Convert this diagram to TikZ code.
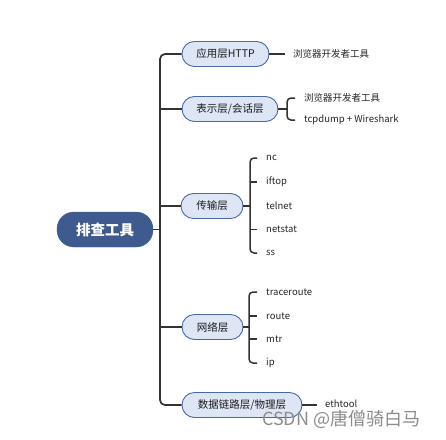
\documentclass[tikz,border=0pt]{standalone}
\usepackage{fontspec}
\setmainfont{Noto Sans CJK SC}
\begin{document}
\begin{tikzpicture}[x=1pt,y=-1pt,
  line/.style={draw=black!80,line width=1.7pt},
  br/.style={draw=black!80,line width=1.5pt,rounded corners=4pt},
  rootbox/.style={fill=rootblue,draw=rootblue,rounded corners=17pt,minimum height=35pt,minimum width=96pt,text=white,font=\fontsize{14.5}{16}\selectfont\bfseries,inner sep=0pt},
  layer/.style={fill=layerfill,draw=layerdraw,line width=0.9pt,rounded corners=12.5pt,minimum height=25pt,inner sep=0pt,font=\fontsize{10.5}{12}\selectfont,text=black!90},
  leaf/.style={anchor=west,inner sep=2pt,font=\fontsize{9.5}{11}\selectfont,text=black!85}]
\definecolor{rootblue}{HTML}{3F5A8F}
\definecolor{layerfill}{HTML}{DEE6F6}
\definecolor{layerdraw}{HTML}{4A69A8}
\path[fill=white] (0,0) rectangle (446,439);
\useasboundingbox (0,0) rectangle (446,439);

% root and layers
\node[rootbox] (root) at (105,229.5) {排查工具};
\node[layer,minimum width=87pt] (app) at (225.5,54) {应用层HTTP};
\node[layer,minimum width=96pt] (pres) at (230,109) {表示层/会话层};
\node[layer,minimum width=62pt] (trans) at (212,206) {传输层};
\node[layer,minimum width=61pt] (net) at (212.5,327) {网络层};
\node[layer,minimum width=120pt] (dl) at (242,405) {数据链路层/物理层};

% trunk
\coordinate (tk) at (160,229.5);
\draw[line] (root.east) -- (tk);
\draw[line,rounded corners=5pt] (app.west) -| (tk) |- (dl.west);
\draw[line] (pres.west) -- (pres.west -| tk);
\draw[line] (trans.west) -- (trans.west -| tk);
\draw[line] (net.west) -- (net.west -| tk);

% leaves
\node[leaf] (appc) at (291,54) {浏览器开发者工具};
\node[leaf] (presa) at (302,98) {浏览器开发者工具};
\node[leaf] (presb) at (302,120) {tcpdump + Wireshark};
\node[leaf] (nc) at (264,158) {nc};
\node[leaf] (iftop) at (264,182) {iftop};
\node[leaf] (telnet) at (264,206) {telnet};
\node[leaf] (netstat) at (264,229.5) {netstat};
\node[leaf] (ss) at (264,253) {ss};
\node[leaf] (tracer) at (264,292) {traceroute};
\node[leaf] (route) at (264,316) {route};
\node[leaf] (mtr) at (264,339) {mtr};
\node[leaf] (ip) at (264,363) {ip};
\node[leaf] (eth) at (323,404) {ethtool};

% single-child connectors
\draw[line] (app.east) -- ([xshift=-6pt]appc.west);
\draw[line] (dl.east) -- ([xshift=-6pt]eth.west |- dl.east);

% presentation bracket
\coordinate (pb) at (287,109);
\draw[br] ([xshift=-7pt]presa.west) -| (pb) |- ([xshift=-7pt]presb.west);
\draw[line] (pres.east) -- (pb);

% transport bracket
\coordinate (tb) at (250,206);
\draw[br] ([xshift=-7pt]nc.west) -| (tb) |- ([xshift=-7pt]ss.west);
\draw[line] (trans.east) -- (tb);
\draw[br] ([xshift=-7pt]iftop.west) -- (iftop.west -| tb);
\draw[br] ([xshift=-7pt]netstat.west) -- (netstat.west -| tb);

% network bracket
\coordinate (nb) at (249,327);
\draw[br] ([xshift=-7pt]tracer.west) -| (nb) |- ([xshift=-7pt]ip.west);
\draw[line] (net.east) -- (nb);
\draw[br] ([xshift=-7pt]route.west) -- (route.west -| nb);
\draw[br] ([xshift=-7pt]mtr.west) -- (mtr.west -| nb);

% watermark
\node[anchor=west,inner sep=0pt,text=black!45,font=\fontsize{18}{20}\selectfont] (wm) at (262,419) {CSDN @唐僧骑白马};
\end{tikzpicture}
\end{document}
